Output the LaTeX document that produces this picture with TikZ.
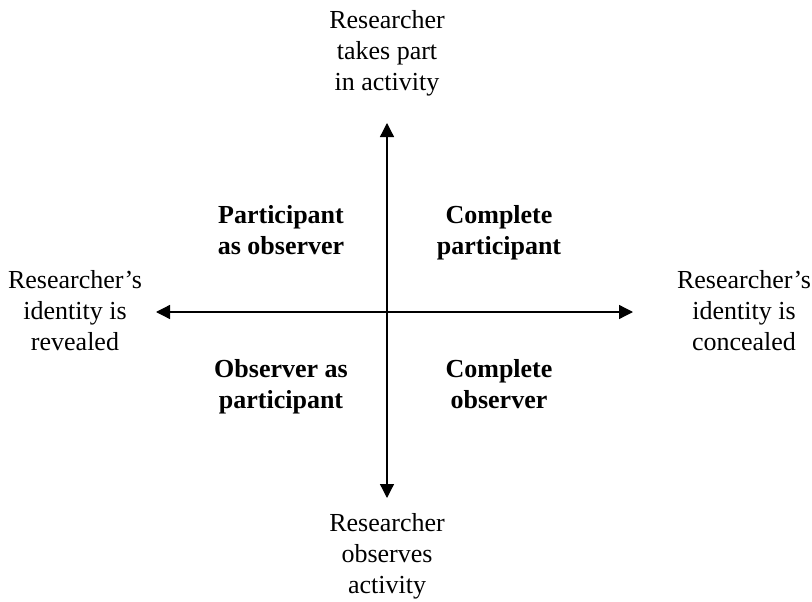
\documentclass[tikz,border=0pt]{standalone}
\usepackage{fontspec}
\setmainfont{Liberation Serif}
\usetikzlibrary{arrows.meta}

\tikzset{
  axis/.style={line width=1.3pt, {Triangle[length=14pt,width=14pt]}-{Triangle[length=14pt,width=14pt]}},
  pole/.style={align=center, inner sep=0pt, font=\fontsize{26}{31}\selectfont},
  role/.style={align=center, inner sep=0pt, font=\fontsize{26}{31}\selectfont\bfseries},
}

\begin{document}
\begin{tikzpicture}[x=1pt, y=-1pt]
  \useasboundingbox (0,0) rectangle (812,602);

  % ends of the two axes
  \coordinate (top) at (387,123);
  \coordinate (bottom) at (387,498);
  \coordinate (left) at (156,312);
  \coordinate (right) at (633,312);

  \draw[axis] (bottom) -- (top);
  \draw[axis] (left) -- (right);

  % pole labels
  \node[pole] (takes) at (387,53) {Researcher\\takes part\\in activity};
  \node[pole] (observes) at (387,556) {Researcher\\observes\\activity};
  \node[pole] (revealed) at (75,311) {Researcher’s\\identity is\\revealed};
  \node[pole] (concealed) at (744,311) {Researcher’s\\identity is\\concealed};

  % quadrant roles
  \node[role] (pao) at (281,230.5) {Participant\\as observer};
  \node[role] (cp) at (499,233) {Complete\\participant};
  \node[role] (oap) at (281,387) {Observer as\\participant};
  \node[role] (co) at (499,384.5) {Complete\\observer};
\end{tikzpicture}
\end{document}
